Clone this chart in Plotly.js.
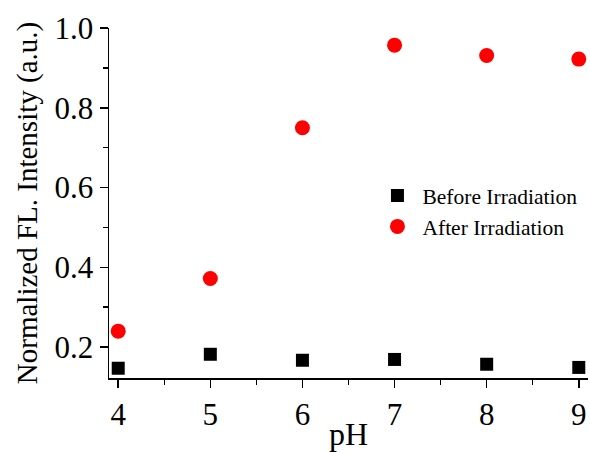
<!DOCTYPE html>
<html>
<head>
<meta charset="utf-8">
<script src="https://cdn.plot.ly/plotly-3.0.1.min.js"></script>
<style>html,body{margin:0;padding:0;background:#fff;}#chart{width:590px;height:452px;}</style>
</head>
<body>
<div id="chart"></div>
<script>
var pH = [4, 5, 6, 7, 8, 9];
var beforeIrradiation = [0.147, 0.182, 0.167, 0.169, 0.157, 0.149];
var afterIrradiation = [0.240, 0.372, 0.750, 0.957, 0.931, 0.922];
var xTickStep = 1;
var yTickStep = 0.2;

var font = "Liberation Serif";
var data = [
  {x: pH, y: beforeIrradiation, type: 'scatter', mode: 'markers', name: 'Before Irradiation',
   marker: {symbol: 'square', size: 13, color: '#000000'}, cliponaxis: false},
  {x: pH, y: afterIrradiation, type: 'scatter', mode: 'markers', name: 'After Irradiation',
   marker: {symbol: 'circle', size: 15, color: '#ff0000'}, cliponaxis: false}
];
var layout = {
  width: 590, height: 452,
  margin: {l: 109, r: 1.5, t: 28, b: 74, pad: 0},
  paper_bgcolor: '#ffffff', plot_bgcolor: '#ffffff',
  font: {family: font, size: 30, color: '#000000'},
  showlegend: true,
  legend: {x: 0.55, y: 0.58, xanchor: 'left', yanchor: 'top', bgcolor: 'rgba(0,0,0,0)', itemwidth: 40,
           font: {family: font, size: 21.5, color: '#000'}, itemsizing: 'trace', tracegroupgap: 0},
  xaxis: {
    range: [3.9, 9.1], tickmode: 'linear', tick0: 4, dtick: xTickStep,
    showgrid: false, zeroline: false, showline: true, linecolor: '#000', linewidth: 1.5,
    ticks: 'outside', ticklen: 8, tickwidth: 1.5, tickcolor: '#000',
    tickfont: {family: font, size: 31, color: '#000'},
    minor: {dtick: 0.5, tick0: 4, ticks: 'outside', ticklen: 5, tickwidth: 1.5, tickcolor: '#000', showgrid: false},
    title: {text: 'pH', font: {family: font, size: 32, color: '#000'}, standoff: 0}
  },
  yaxis: {
    range: [0.1225, 1.0], tickmode: 'linear', tick0: 0, dtick: yTickStep, tickformat: '.1f',
    showgrid: false, zeroline: false, showline: true, linecolor: '#000', linewidth: 1.5,
    ticks: 'outside', ticklen: 8, tickwidth: 1.5, tickcolor: '#000',
    tickfont: {family: font, size: 31, color: '#000'},
    minor: {dtick: 0.1, tick0: 0, ticks: 'outside', ticklen: 5, tickwidth: 1.5, tickcolor: '#000', showgrid: false},
    title: {text: 'Normalized FL. Intensity (a.u.)', font: {family: font, size: 29, color: '#000'}, standoff: 8}
  }
};
Plotly.newPlot('chart', data, layout, {displayModeBar: false, staticPlot: true});
</script>
</body>
</html>
